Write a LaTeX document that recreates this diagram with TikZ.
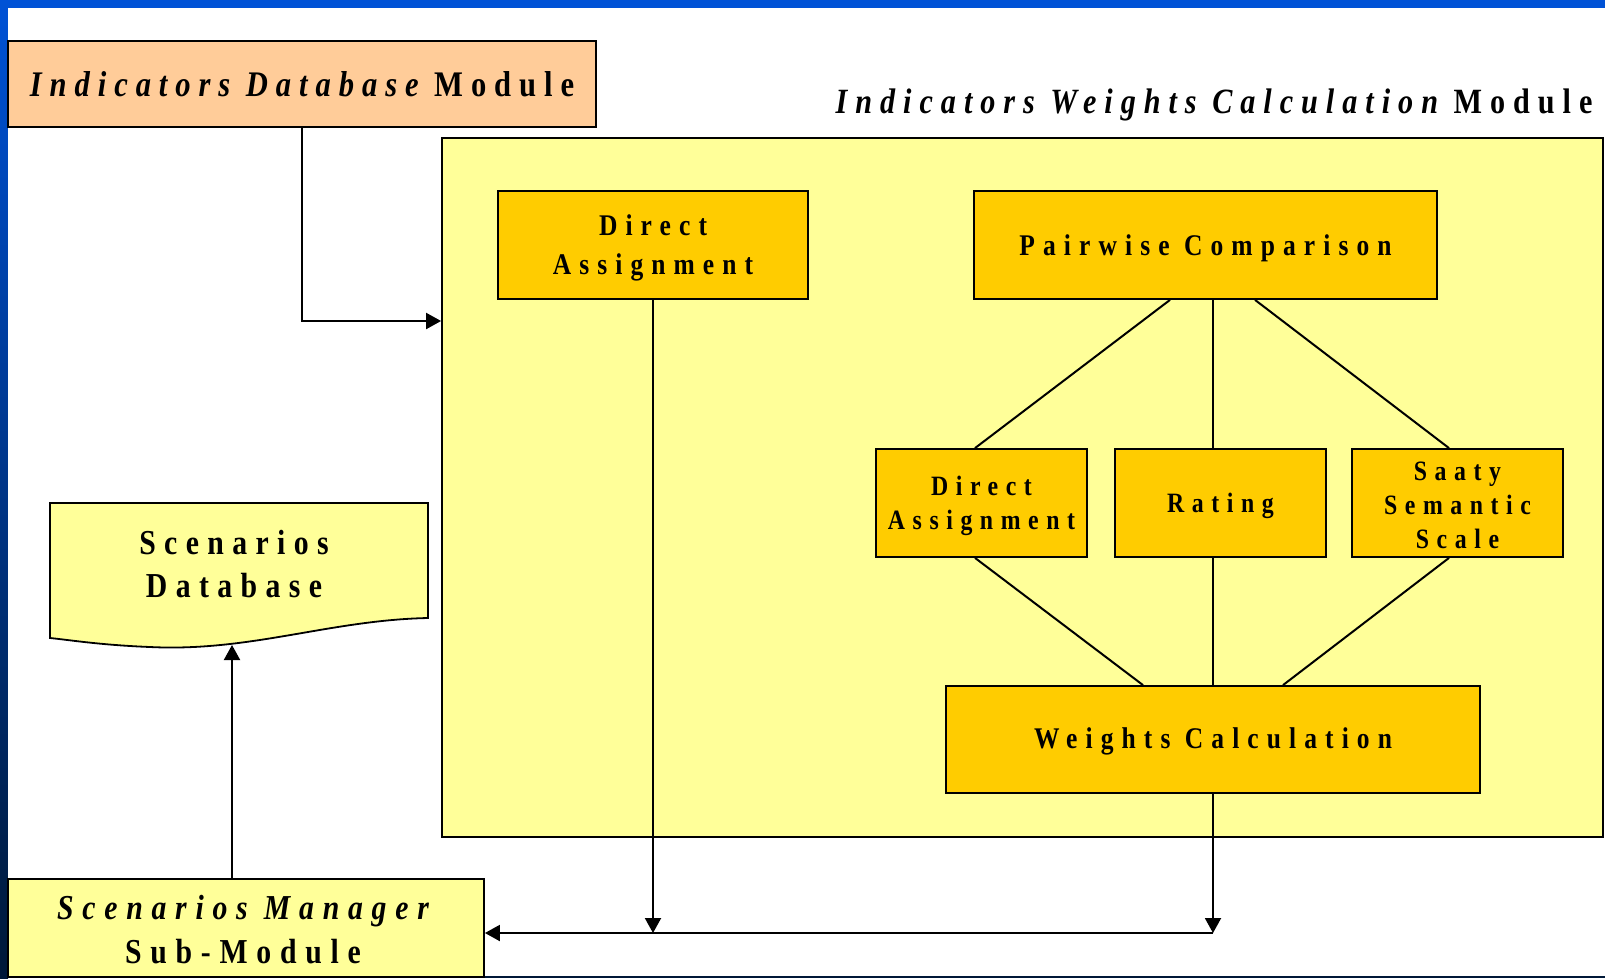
\documentclass[tikz,border=0pt]{standalone}
\usepackage{fontspec}
\setmainfont{Liberation Serif}[FakeStretch=0.85]
\usetikzlibrary{arrows.meta}
\definecolor{peach}{HTML}{FFCC99}
\definecolor{paleyel}{HTML}{FFFF99}
\definecolor{gold}{HTML}{FFCC00}
\definecolor{frameblue}{HTML}{0052D6}
\definecolor{framenavy}{HTML}{001838}
\begin{document}
\begin{tikzpicture}[x=1pt,y=-1pt,
  box/.style={draw=black, line width=1.8pt, inner sep=0pt, align=center},
  goldbox/.style={box, fill=gold},
  bigtxt/.style={inner sep=0pt, align=center, font=\fontsize{30}{39}\selectfont\bfseries\addfontfeature{LetterSpace=27}},
  smalltxt/.style={inner sep=0pt, align=center, font=\fontsize{28}{34}\selectfont\bfseries\addfontfeature{LetterSpace=27}},
  smallbox/.style={goldbox, minimum width=211pt, minimum height=108pt},
  conn/.style={line width=2pt},
  arr/.style={line width=2pt, -{Triangle[length=15pt,width=16pt]}}
]
\useasboundingbox (0,0) rectangle (1605,978);
% slide frame
\fill[frameblue] (0,0) rectangle (1605,8);
\shade[top color=frameblue, bottom color=framenavy] (0,0) rectangle (8,978);
\fill[white] (8,8) rectangle (1605,976);
\fill[framenavy] (8,976) rectangle (1605,978);

% modules
\node[box, fill=peach, minimum width=588pt, minimum height=86pt,
      font=\fontsize{36}{40}\selectfont\bfseries\addfontfeature{LetterSpace=22}] (idm) at (302,84)
      {{\itshape Indicators Database} Module};
\node[font=\fontsize{35.5}{40}\selectfont\bfseries\addfontfeature{LetterSpace=22.5}, anchor=base, inner sep=0pt] (iwcm) at (1214,113)
      {{\itshape Indicators Weights Calculation} Module};
\node[box, fill=paleyel, minimum width=1161pt, minimum height=699pt] (big) at (1022.5,487.5) {};

\node[goldbox, minimum width=310pt, minimum height=108pt] (da1) at (653,245) {};
\node[bigtxt] (da1t) at ([yshift=-3pt]da1.center) {Direct\\Assignment};
\node[goldbox, minimum width=463pt, minimum height=108pt] (pc) at (1205.5,245) {};
\node[bigtxt] (pct) at ([yshift=-3pt]pc.center) {Pairwise Comparison};
\node[smallbox] (da2) at (981.5,503) {};
\node[smalltxt] (da2t) at ([yshift=-3pt]da2.center) {Direct\\Assignment};
\node[smallbox] (rat) at (1220.5,503) {};
\node[smalltxt] (ratt) at ([yshift=-3pt]rat.center) {Rating};
\node[smallbox] (saaty) at (1457.5,503) {};
\node[smalltxt] (saatyt) at ([yshift=-2pt]saaty.center) {Saaty\\Semantic\\Scale};
\node[goldbox, minimum width=534pt, minimum height=107pt] (wc) at (1213,739.5) {};
\node[bigtxt] (wct) at ([yshift=-2pt]wc.center) {Weights Calculation};

% scenarios database (document shape)
\draw[line width=1.8pt, fill=paleyel] (50,503) -- (428,503) -- (428,618)
  .. controls (330,620) and (250,652) .. (150,647)
  .. controls (100,645) and (70,640) .. (50,638) -- cycle;
\node[align=center, inner sep=0pt, font=\fontsize{35}{43}\selectfont\bfseries\addfontfeature{LetterSpace=24}] (sd) at (234,564) {Scenarios\\Database};
\coordinate (sdb) at (232,645);

\node[box, fill=paleyel, minimum width=476pt, minimum height=98pt] (sm) at (246,928) {};
\node[inner sep=0pt, align=center, font=\fontsize{35}{44}\selectfont\bfseries\addfontfeature{LetterSpace=25}] (smt) at ([xshift=-3pt,yshift=-2pt]sm.center)
      {{\itshape Scenarios Manager}\\Sub-Module};

% connectors inside
\draw[conn] ([xshift=-35.5pt]pc.south) -- ([xshift=-6.5pt]da2.north);
\draw[conn] ([xshift=7.5pt]pc.south) -- ([xshift=-7.5pt]rat.north);
\draw[conn] ([xshift=49.5pt]pc.south) -- ([xshift=-8.5pt]saaty.north);
\draw[conn] ([xshift=-6.5pt]da2.south) -- ([xshift=-70pt]wc.north);
\draw[conn] ([xshift=-7.5pt]rat.south) -- (wc.north);
\draw[conn] ([xshift=-8.5pt]saaty.south) -- ([xshift=70pt]wc.north);

% arrows
\draw[arr] (idm.south) |- ([yshift=166.5pt]big.west);
\coordinate (j) at (1213,933);
\draw[arr] (wc.south) -- (wc.south |- j);
\draw[arr] (da1.south) -- (da1.south |- j);
\draw[arr] (j) -- (sm.east |- j);
\draw[arr] ([xshift=-14pt]sm.north) -- (sdb);
\end{tikzpicture}
\end{document}
